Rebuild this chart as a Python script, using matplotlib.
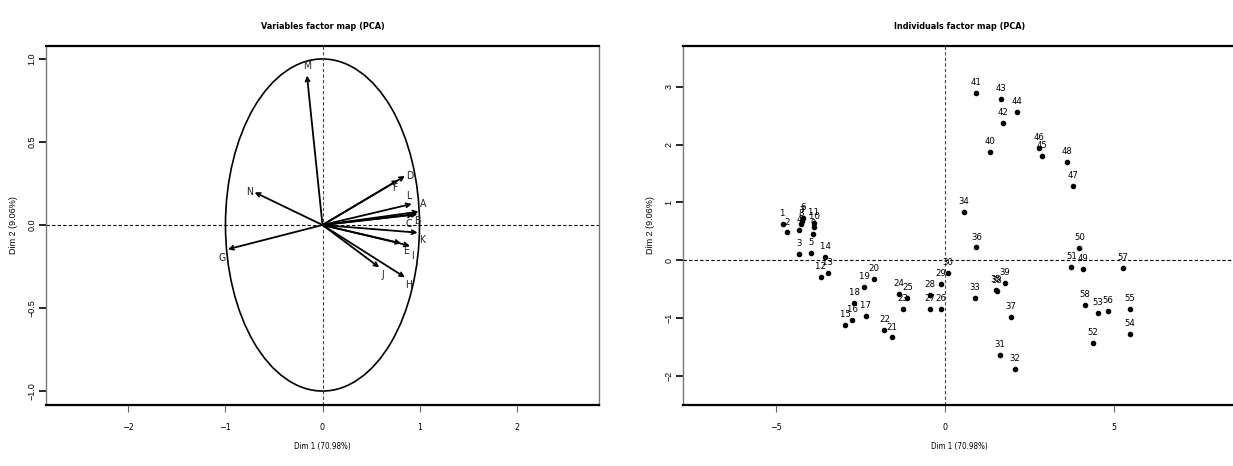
import matplotlib
matplotlib.use('Agg')
import matplotlib.pyplot as plt
from matplotlib.patches import Circle

# ------------------------------------------------------
# Dados (coordenadas do PCA)

dim1_label = 'Dim 1 (70.98%)'
dim2_label = 'Dim 2 (9.06%)'

# variaveis (circulo de correlacao)
var_names = ['A', 'B', 'C', 'D', 'E', 'F', 'G', 'H', 'I', 'J', 'K', 'L', 'M', 'N']
var_dim1 = [0.99, 0.98, 0.94, 0.85, 0.81, 0.78, -0.975, 0.85, 0.90, 0.585, 0.98, 0.92, -0.16, -0.70]
var_dim2 = [0.08, 0.066, 0.062, 0.295, -0.11, 0.27, -0.146, -0.315, -0.125, -0.255, -0.046, 0.127, 0.90, 0.197]

# individuos
ind_names = [str(i) for i in range(1, 59)]
ind_dim1 = [-4.79, -4.65, -4.31, -4.30, -3.95, -4.18, -4.22, -4.25, -3.89, -3.85,
            -3.87, -3.66, -3.46, -3.54, -2.94, -2.73, -2.34, -2.68, -2.38, -2.09,
            -1.55, -1.78, -1.24, -1.36, -1.10, -0.12, -0.43, -0.43, -0.11, 0.09,
            1.63, 2.09, 0.89, 0.57, 1.52, 0.94, 1.95, 1.54, 1.78, 1.33,
            0.93, 1.72, 1.67, 2.14, 2.88, 2.78, 3.79, 3.62, 4.09, 3.99,
            3.75, 4.39, 4.53, 5.48, 5.47, 4.82, 5.27, 4.16]
ind_dim2 = [0.62, 0.48, 0.10, 0.52, 0.12, 0.73, 0.68, 0.62, 0.46, 0.58,
            0.64, -0.29, -0.22, 0.06, -1.13, -1.04, -0.97, -0.74, -0.47, -0.33,
            -1.34, -1.21, -0.85, -0.58, -0.65, -0.85, -0.84, -0.60, -0.42, -0.22,
            -1.65, -1.89, -0.66, 0.83, -0.52, 0.22, -0.98, -0.53, -0.40, 1.87,
            2.90, 2.37, 2.80, 2.56, 1.80, 1.95, 1.28, 1.70, -0.16, 0.21,
            -0.12, -1.43, -0.92, -1.28, -0.84, -0.88, -0.13, -0.77]

# ------------------------------------------------------
# Estilo

NARROW = ['Liberation Sans Narrow', 'DejaVu Sans']
PLAIN = ['Liberation Sans', 'DejaVu Sans']

# deslocamento (px) do rotulo de cada variavel em relacao a ponta da seta
var_label_offset = {'A': (5, 8), 'B': (0, -7), 'C': (-5, -9), 'D': (5, 0), 'E': (5, -8),
                    'F': (-3, -8), 'G': (-6, -9), 'H': (4, -8), 'I': (3, -10), 'J': (4, -8),
                    'K': (5, -7), 'L': (-3, 8), 'M': (0, 10), 'N': (-5, 0)}


def style_axes(ax, title):
    ax.set_title(title, fontsize=6.5, fontweight='bold', family=NARROW,
                 fontstretch='condensed', pad=12)
    ax.set_xlabel(dim1_label, fontsize=5.8, family=NARROW, fontstretch='condensed', labelpad=7)
    ax.set_ylabel(dim2_label, fontsize=6.5, family=PLAIN, labelpad=7)

    for side in ['top', 'bottom']:
        ax.spines[side].set_linewidth(1.6)
        ax.spines[side].set_color('black')
    for side in ['left', 'right']:
        ax.spines[side].set_linewidth(1.0)
        ax.spines[side].set_color('#777777')

    ax.tick_params(axis='x', direction='out', length=5, width=0.8, color='#666666',
                   pad=8, labelsize=6.5)
    ax.tick_params(axis='y', direction='out', length=5, width=1.2, color='black',
                   pad=2, labelsize=6.5, labelrotation=90)
    for lab in ax.get_xticklabels():
        lab.set_family(NARROW)
        lab.set_stretch('condensed')
    for lab in ax.get_yticklabels():
        lab.set_family(PLAIN)
        lab.set_va('center')

    ax.axhline(0, ls=(0, (3, 2)), lw=0.8, color='black')
    ax.axvline(0, ls=(0, (3, 2)), lw=0.8, color='#444444')


def plot_variables(ax):
    ax.set_xlim(-2.85, 2.85)
    ax.set_ylim(-1.084, 1.078)
    ax.set_xticks([-2, -1, 0, 1, 2])
    ax.set_yticks([-1.0, -0.5, 0.0, 0.5, 1.0])

    ax.add_patch(Circle((0, 0), 1, fill=False, lw=1.2, color='black'))

    for name, x, y in zip(var_names, var_dim1, var_dim2):
        ax.annotate('', xy=(x, y), xytext=(0, 0),
                    arrowprops=dict(arrowstyle='->', lw=1.3, color='black',
                                    mutation_scale=7, shrinkA=0, shrinkB=0))
        dx, dy = var_label_offset[name]
        ax.annotate(name, (x, y), xytext=(dx * 0.72, dy * 0.72), textcoords='offset points',
                    ha='center', va='center', fontsize=7.5, family=NARROW,
                    fontstretch='condensed', color='#222222')

    style_axes(ax, 'Variables factor map (PCA)')


def plot_individuals(ax):
    ax.set_xlim(-7.74, 8.62)
    ax.set_ylim(-2.51, 3.71)
    ax.set_xticks([-5, 0, 5])
    ax.set_yticks([-2, -1, 0, 1, 2, 3])

    ax.plot(ind_dim1, ind_dim2, 'o', ms=3, color='black', ls='none')
    for name, x, y in zip(ind_names, ind_dim1, ind_dim2):
        ax.annotate(name, (x, y), xytext=(0, 7.5), textcoords='offset points',
                    ha='center', va='center', fontsize=6.8, family=NARROW,
                    fontstretch='condensed')

    style_axes(ax, 'Individuals factor map (PCA)')


def main():
    fig = plt.figure(figsize=(12.33, 4.66), dpi=100)
    ax_var = fig.add_axes([46 / 1233, 61 / 466, 553 / 1233, 359 / 466])
    # o quadro da direita passa um pouco da borda da imagem (recorte do original)
    ax_ind = fig.add_axes([683 / 1233, 61 / 466, 553 / 1233, 359 / 466])

    plot_variables(ax_var)
    plot_individuals(ax_ind)

    fig.savefig('out.png', dpi=100)


main()
